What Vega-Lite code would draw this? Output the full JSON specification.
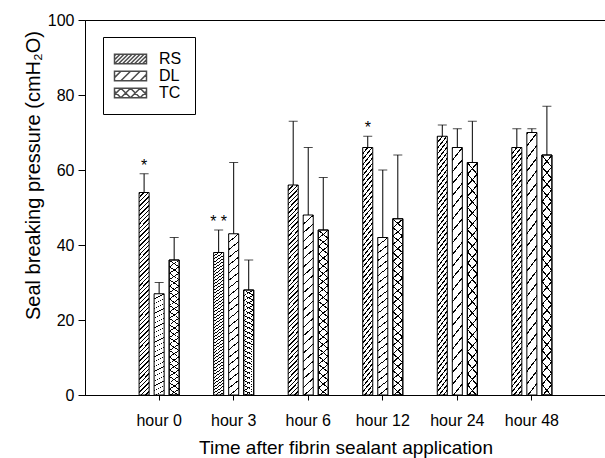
{
  "$schema": "https://vega.github.io/schema/vega-lite/v6.json",
  "width": 521,
  "height": 375,
  "autosize": {"type": "none"},
  "padding": {"left": 85, "top": 20, "right": -1, "bottom": 63},
  "background": "white",
  "config": {
    "view": {"stroke": "black", "strokeWidth": 1},
    "font": "Liberation Sans",
    "axis": {"domainColor": "black", "tickColor": "black", "labelColor": "black", "titleColor": "black", "labelFont": "Liberation Sans", "titleFont": "Liberation Sans", "titleFontWeight": "normal", "grid": false}
  },
  "data": {"values": [
    {"hour": "hour 0", "group": "RS", "value": 54, "upper": 59, "star": "*"},
    {"hour": "hour 0", "group": "DL", "value": 27, "upper": 30, "star": ""},
    {"hour": "hour 0", "group": "TC", "value": 36, "upper": 42, "star": ""},
    {"hour": "hour 3", "group": "RS", "value": 38, "upper": 44, "star": "* *"},
    {"hour": "hour 3", "group": "DL", "value": 43, "upper": 62, "star": ""},
    {"hour": "hour 3", "group": "TC", "value": 28, "upper": 36, "star": ""},
    {"hour": "hour 6", "group": "RS", "value": 56, "upper": 73, "star": ""},
    {"hour": "hour 6", "group": "DL", "value": 48, "upper": 66, "star": ""},
    {"hour": "hour 6", "group": "TC", "value": 44, "upper": 58, "star": ""},
    {"hour": "hour 12", "group": "RS", "value": 66, "upper": 69, "star": "*"},
    {"hour": "hour 12", "group": "DL", "value": 42, "upper": 60, "star": ""},
    {"hour": "hour 12", "group": "TC", "value": 47, "upper": 64, "star": ""},
    {"hour": "hour 24", "group": "RS", "value": 69, "upper": 72, "star": ""},
    {"hour": "hour 24", "group": "DL", "value": 66, "upper": 71, "star": ""},
    {"hour": "hour 24", "group": "TC", "value": 62, "upper": 73, "star": ""},
    {"hour": "hour 48", "group": "RS", "value": 66, "upper": 71, "star": ""},
    {"hour": "hour 48", "group": "DL", "value": 70, "upper": 71, "star": ""},
    {"hour": "hour 48", "group": "TC", "value": 64, "upper": 77, "star": ""}
  ]},
  "encoding": {
    "x": {"field": "hour", "type": "nominal",
      "scale": {"domain": ["hour 0", "hour 3", "hour 6", "hour 12", "hour 24", "hour 48"], "paddingInner": 0.395, "paddingOuter": 0.692},
      "axis": {"title": "Time after fibrin sealant application", "tickSize": 5, "labelPadding": 12, "labelFontSize": 16, "labelAngle": 0, "titleFontSize": 19, "titleY": 43, "titleBaseline": "top"}},
    "xOffset": {"field": "group", "type": "nominal", "scale": {"domain": ["RS", "DL", "TC"], "paddingInner": 0.3333, "paddingOuter": 0.1667}},
    "y": {"field": "value", "type": "quantitative", "scale": {"domain": [0, 100], "nice": false},
      "axis": {"title": "Seal breaking pressure (cmH₂O)", "values": [0, 20, 40, 60, 80, 100], "tickSize": 7, "labelPadding": 4, "labelFontSize": 16, "titleFontSize": 20, "titleX": -52, "titleY": 155, "titleAlign": "center", "titleBaseline": "middle"}}
  },
  "layer": [
    {
      "transform": [{"filter": "datum.group === 'RS'"}],
      "mark": {"type": "bar", "stroke": "black", "strokeWidth": 1, "fill": {"gradient": "linear", "x1": 0, "y1": 0, "x2": 0.0524, "y2": 1.0474, "stops": [
        {"offset":0,"color":"#000"},{"offset":0.0067,"color":"#000"},{"offset":0.0067,"color":"#fff"},{"offset":0.0208,"color":"#fff"},
        {"offset":0.0208,"color":"#000"},{"offset":0.0275,"color":"#000"},{"offset":0.0275,"color":"#fff"},{"offset":0.0417,"color":"#fff"},
        {"offset":0.0417,"color":"#000"},{"offset":0.0483,"color":"#000"},{"offset":0.0483,"color":"#fff"},{"offset":0.0625,"color":"#fff"},
        {"offset":0.0625,"color":"#000"},{"offset":0.0692,"color":"#000"},{"offset":0.0692,"color":"#fff"},{"offset":0.0833,"color":"#fff"},
        {"offset":0.0833,"color":"#000"},{"offset":0.09,"color":"#000"},{"offset":0.09,"color":"#fff"},{"offset":0.1042,"color":"#fff"},
        {"offset":0.1042,"color":"#000"},{"offset":0.1108,"color":"#000"},{"offset":0.1108,"color":"#fff"},{"offset":0.125,"color":"#fff"},
        {"offset":0.125,"color":"#000"},{"offset":0.1317,"color":"#000"},{"offset":0.1317,"color":"#fff"},{"offset":0.1458,"color":"#fff"},
        {"offset":0.1458,"color":"#000"},{"offset":0.1525,"color":"#000"},{"offset":0.1525,"color":"#fff"},{"offset":0.1667,"color":"#fff"},
        {"offset":0.1667,"color":"#000"},{"offset":0.1733,"color":"#000"},{"offset":0.1733,"color":"#fff"},{"offset":0.1875,"color":"#fff"},
        {"offset":0.1875,"color":"#000"},{"offset":0.1942,"color":"#000"},{"offset":0.1942,"color":"#fff"},{"offset":0.2083,"color":"#fff"},
        {"offset":0.2083,"color":"#000"},{"offset":0.215,"color":"#000"},{"offset":0.215,"color":"#fff"},{"offset":0.2292,"color":"#fff"},
        {"offset":0.2292,"color":"#000"},{"offset":0.2358,"color":"#000"},{"offset":0.2358,"color":"#fff"},{"offset":0.25,"color":"#fff"},
        {"offset":0.25,"color":"#000"},{"offset":0.2567,"color":"#000"},{"offset":0.2567,"color":"#fff"},{"offset":0.2708,"color":"#fff"},
        {"offset":0.2708,"color":"#000"},{"offset":0.2775,"color":"#000"},{"offset":0.2775,"color":"#fff"},{"offset":0.2917,"color":"#fff"},
        {"offset":0.2917,"color":"#000"},{"offset":0.2983,"color":"#000"},{"offset":0.2983,"color":"#fff"},{"offset":0.3125,"color":"#fff"},
        {"offset":0.3125,"color":"#000"},{"offset":0.3192,"color":"#000"},{"offset":0.3192,"color":"#fff"},{"offset":0.3333,"color":"#fff"},
        {"offset":0.3333,"color":"#000"},{"offset":0.34,"color":"#000"},{"offset":0.34,"color":"#fff"},{"offset":0.3542,"color":"#fff"},
        {"offset":0.3542,"color":"#000"},{"offset":0.3608,"color":"#000"},{"offset":0.3608,"color":"#fff"},{"offset":0.375,"color":"#fff"},
        {"offset":0.375,"color":"#000"},{"offset":0.3817,"color":"#000"},{"offset":0.3817,"color":"#fff"},{"offset":0.3958,"color":"#fff"},
        {"offset":0.3958,"color":"#000"},{"offset":0.4025,"color":"#000"},{"offset":0.4025,"color":"#fff"},{"offset":0.4167,"color":"#fff"},
        {"offset":0.4167,"color":"#000"},{"offset":0.4233,"color":"#000"},{"offset":0.4233,"color":"#fff"},{"offset":0.4375,"color":"#fff"},
        {"offset":0.4375,"color":"#000"},{"offset":0.4442,"color":"#000"},{"offset":0.4442,"color":"#fff"},{"offset":0.4583,"color":"#fff"},
        {"offset":0.4583,"color":"#000"},{"offset":0.465,"color":"#000"},{"offset":0.465,"color":"#fff"},{"offset":0.4792,"color":"#fff"},
        {"offset":0.4792,"color":"#000"},{"offset":0.4858,"color":"#000"},{"offset":0.4858,"color":"#fff"},{"offset":0.5,"color":"#fff"},
        {"offset":0.5,"color":"#000"},{"offset":0.5067,"color":"#000"},{"offset":0.5067,"color":"#fff"},{"offset":0.5208,"color":"#fff"},
        {"offset":0.5208,"color":"#000"},{"offset":0.5275,"color":"#000"},{"offset":0.5275,"color":"#fff"},{"offset":0.5417,"color":"#fff"},
        {"offset":0.5417,"color":"#000"},{"offset":0.5483,"color":"#000"},{"offset":0.5483,"color":"#fff"},{"offset":0.5625,"color":"#fff"},
        {"offset":0.5625,"color":"#000"},{"offset":0.5692,"color":"#000"},{"offset":0.5692,"color":"#fff"},{"offset":0.5833,"color":"#fff"},
        {"offset":0.5833,"color":"#000"},{"offset":0.59,"color":"#000"},{"offset":0.59,"color":"#fff"},{"offset":0.6042,"color":"#fff"},
        {"offset":0.6042,"color":"#000"},{"offset":0.6108,"color":"#000"},{"offset":0.6108,"color":"#fff"},{"offset":0.625,"color":"#fff"},
        {"offset":0.625,"color":"#000"},{"offset":0.6317,"color":"#000"},{"offset":0.6317,"color":"#fff"},{"offset":0.6458,"color":"#fff"},
        {"offset":0.6458,"color":"#000"},{"offset":0.6525,"color":"#000"},{"offset":0.6525,"color":"#fff"},{"offset":0.6667,"color":"#fff"},
        {"offset":0.6667,"color":"#000"},{"offset":0.6733,"color":"#000"},{"offset":0.6733,"color":"#fff"},{"offset":0.6875,"color":"#fff"},
        {"offset":0.6875,"color":"#000"},{"offset":0.6942,"color":"#000"},{"offset":0.6942,"color":"#fff"},{"offset":0.7083,"color":"#fff"},
        {"offset":0.7083,"color":"#000"},{"offset":0.715,"color":"#000"},{"offset":0.715,"color":"#fff"},{"offset":0.7292,"color":"#fff"},
        {"offset":0.7292,"color":"#000"},{"offset":0.7358,"color":"#000"},{"offset":0.7358,"color":"#fff"},{"offset":0.75,"color":"#fff"},
        {"offset":0.75,"color":"#000"},{"offset":0.7567,"color":"#000"},{"offset":0.7567,"color":"#fff"},{"offset":0.7708,"color":"#fff"},
        {"offset":0.7708,"color":"#000"},{"offset":0.7775,"color":"#000"},{"offset":0.7775,"color":"#fff"},{"offset":0.7917,"color":"#fff"},
        {"offset":0.7917,"color":"#000"},{"offset":0.7983,"color":"#000"},{"offset":0.7983,"color":"#fff"},{"offset":0.8125,"color":"#fff"},
        {"offset":0.8125,"color":"#000"},{"offset":0.8192,"color":"#000"},{"offset":0.8192,"color":"#fff"},{"offset":0.8333,"color":"#fff"},
        {"offset":0.8333,"color":"#000"},{"offset":0.84,"color":"#000"},{"offset":0.84,"color":"#fff"},{"offset":0.8542,"color":"#fff"},
        {"offset":0.8542,"color":"#000"},{"offset":0.8608,"color":"#000"},{"offset":0.8608,"color":"#fff"},{"offset":0.875,"color":"#fff"},
        {"offset":0.875,"color":"#000"},{"offset":0.8817,"color":"#000"},{"offset":0.8817,"color":"#fff"},{"offset":0.8958,"color":"#fff"},
        {"offset":0.8958,"color":"#000"},{"offset":0.9025,"color":"#000"},{"offset":0.9025,"color":"#fff"},{"offset":0.9167,"color":"#fff"},
        {"offset":0.9167,"color":"#000"},{"offset":0.9233,"color":"#000"},{"offset":0.9233,"color":"#fff"},{"offset":0.9375,"color":"#fff"},
        {"offset":0.9375,"color":"#000"},{"offset":0.9442,"color":"#000"},{"offset":0.9442,"color":"#fff"},{"offset":0.9583,"color":"#fff"},
        {"offset":0.9583,"color":"#000"},{"offset":0.965,"color":"#000"},{"offset":0.965,"color":"#fff"},{"offset":0.9792,"color":"#fff"},
        {"offset":0.9792,"color":"#000"},{"offset":0.9858,"color":"#000"},{"offset":0.9858,"color":"#fff"},{"offset":1,"color":"#fff"}
      ]}}
    },
    {
      "transform": [{"filter": "datum.group === 'DL'"}],
      "mark": {"type": "bar", "stroke": "black", "strokeWidth": 1, "fill": {"gradient": "linear", "x1": 0, "y1": 0, "x2": 0.0524, "y2": 1.0474, "stops": [
        {"offset":0,"color":"#000"},{"offset":0.0068,"color":"#000"},{"offset":0.0068,"color":"#fff"},{"offset":0.0455,"color":"#fff"},
        {"offset":0.0455,"color":"#000"},{"offset":0.0523,"color":"#000"},{"offset":0.0523,"color":"#fff"},{"offset":0.0909,"color":"#fff"},
        {"offset":0.0909,"color":"#000"},{"offset":0.0977,"color":"#000"},{"offset":0.0977,"color":"#fff"},{"offset":0.1364,"color":"#fff"},
        {"offset":0.1364,"color":"#000"},{"offset":0.1432,"color":"#000"},{"offset":0.1432,"color":"#fff"},{"offset":0.1818,"color":"#fff"},
        {"offset":0.1818,"color":"#000"},{"offset":0.1886,"color":"#000"},{"offset":0.1886,"color":"#fff"},{"offset":0.2273,"color":"#fff"},
        {"offset":0.2273,"color":"#000"},{"offset":0.2341,"color":"#000"},{"offset":0.2341,"color":"#fff"},{"offset":0.2727,"color":"#fff"},
        {"offset":0.2727,"color":"#000"},{"offset":0.2795,"color":"#000"},{"offset":0.2795,"color":"#fff"},{"offset":0.3182,"color":"#fff"},
        {"offset":0.3182,"color":"#000"},{"offset":0.325,"color":"#000"},{"offset":0.325,"color":"#fff"},{"offset":0.3636,"color":"#fff"},
        {"offset":0.3636,"color":"#000"},{"offset":0.3704,"color":"#000"},{"offset":0.3704,"color":"#fff"},{"offset":0.4091,"color":"#fff"},
        {"offset":0.4091,"color":"#000"},{"offset":0.4159,"color":"#000"},{"offset":0.4159,"color":"#fff"},{"offset":0.4545,"color":"#fff"},
        {"offset":0.4545,"color":"#000"},{"offset":0.4613,"color":"#000"},{"offset":0.4613,"color":"#fff"},{"offset":0.5,"color":"#fff"},
        {"offset":0.5,"color":"#000"},{"offset":0.5068,"color":"#000"},{"offset":0.5068,"color":"#fff"},{"offset":0.5455,"color":"#fff"},
        {"offset":0.5455,"color":"#000"},{"offset":0.5523,"color":"#000"},{"offset":0.5523,"color":"#fff"},{"offset":0.5909,"color":"#fff"},
        {"offset":0.5909,"color":"#000"},{"offset":0.5977,"color":"#000"},{"offset":0.5977,"color":"#fff"},{"offset":0.6364,"color":"#fff"},
        {"offset":0.6364,"color":"#000"},{"offset":0.6432,"color":"#000"},{"offset":0.6432,"color":"#fff"},{"offset":0.6818,"color":"#fff"},
        {"offset":0.6818,"color":"#000"},{"offset":0.6886,"color":"#000"},{"offset":0.6886,"color":"#fff"},{"offset":0.7273,"color":"#fff"},
        {"offset":0.7273,"color":"#000"},{"offset":0.7341,"color":"#000"},{"offset":0.7341,"color":"#fff"},{"offset":0.7727,"color":"#fff"},
        {"offset":0.7727,"color":"#000"},{"offset":0.7795,"color":"#000"},{"offset":0.7795,"color":"#fff"},{"offset":0.8182,"color":"#fff"},
        {"offset":0.8182,"color":"#000"},{"offset":0.825,"color":"#000"},{"offset":0.825,"color":"#fff"},{"offset":0.8636,"color":"#fff"},
        {"offset":0.8636,"color":"#000"},{"offset":0.8704,"color":"#000"},{"offset":0.8704,"color":"#fff"},{"offset":0.9091,"color":"#fff"},
        {"offset":0.9091,"color":"#000"},{"offset":0.9159,"color":"#000"},{"offset":0.9159,"color":"#fff"},{"offset":0.9545,"color":"#fff"},
        {"offset":0.9545,"color":"#000"},{"offset":0.9613,"color":"#000"},{"offset":0.9613,"color":"#fff"},{"offset":1,"color":"#fff"}
      ]}}
    },
    {
      "transform": [{"filter": "datum.group === 'TC'"}],
      "mark": {"type": "bar", "stroke": "black", "strokeWidth": 1, "fill": {"gradient": "linear", "x1": 0, "y1": 0, "x2": 0.0524, "y2": 1.0474, "stops": [
        {"offset":0,"color":"#000"},{"offset":0.0068,"color":"#000"},{"offset":0.0068,"color":"#fff"},{"offset":0.0455,"color":"#fff"},
        {"offset":0.0455,"color":"#000"},{"offset":0.0523,"color":"#000"},{"offset":0.0523,"color":"#fff"},{"offset":0.0909,"color":"#fff"},
        {"offset":0.0909,"color":"#000"},{"offset":0.0977,"color":"#000"},{"offset":0.0977,"color":"#fff"},{"offset":0.1364,"color":"#fff"},
        {"offset":0.1364,"color":"#000"},{"offset":0.1432,"color":"#000"},{"offset":0.1432,"color":"#fff"},{"offset":0.1818,"color":"#fff"},
        {"offset":0.1818,"color":"#000"},{"offset":0.1886,"color":"#000"},{"offset":0.1886,"color":"#fff"},{"offset":0.2273,"color":"#fff"},
        {"offset":0.2273,"color":"#000"},{"offset":0.2341,"color":"#000"},{"offset":0.2341,"color":"#fff"},{"offset":0.2727,"color":"#fff"},
        {"offset":0.2727,"color":"#000"},{"offset":0.2795,"color":"#000"},{"offset":0.2795,"color":"#fff"},{"offset":0.3182,"color":"#fff"},
        {"offset":0.3182,"color":"#000"},{"offset":0.325,"color":"#000"},{"offset":0.325,"color":"#fff"},{"offset":0.3636,"color":"#fff"},
        {"offset":0.3636,"color":"#000"},{"offset":0.3704,"color":"#000"},{"offset":0.3704,"color":"#fff"},{"offset":0.4091,"color":"#fff"},
        {"offset":0.4091,"color":"#000"},{"offset":0.4159,"color":"#000"},{"offset":0.4159,"color":"#fff"},{"offset":0.4545,"color":"#fff"},
        {"offset":0.4545,"color":"#000"},{"offset":0.4613,"color":"#000"},{"offset":0.4613,"color":"#fff"},{"offset":0.5,"color":"#fff"},
        {"offset":0.5,"color":"#000"},{"offset":0.5068,"color":"#000"},{"offset":0.5068,"color":"#fff"},{"offset":0.5455,"color":"#fff"},
        {"offset":0.5455,"color":"#000"},{"offset":0.5523,"color":"#000"},{"offset":0.5523,"color":"#fff"},{"offset":0.5909,"color":"#fff"},
        {"offset":0.5909,"color":"#000"},{"offset":0.5977,"color":"#000"},{"offset":0.5977,"color":"#fff"},{"offset":0.6364,"color":"#fff"},
        {"offset":0.6364,"color":"#000"},{"offset":0.6432,"color":"#000"},{"offset":0.6432,"color":"#fff"},{"offset":0.6818,"color":"#fff"},
        {"offset":0.6818,"color":"#000"},{"offset":0.6886,"color":"#000"},{"offset":0.6886,"color":"#fff"},{"offset":0.7273,"color":"#fff"},
        {"offset":0.7273,"color":"#000"},{"offset":0.7341,"color":"#000"},{"offset":0.7341,"color":"#fff"},{"offset":0.7727,"color":"#fff"},
        {"offset":0.7727,"color":"#000"},{"offset":0.7795,"color":"#000"},{"offset":0.7795,"color":"#fff"},{"offset":0.8182,"color":"#fff"},
        {"offset":0.8182,"color":"#000"},{"offset":0.825,"color":"#000"},{"offset":0.825,"color":"#fff"},{"offset":0.8636,"color":"#fff"},
        {"offset":0.8636,"color":"#000"},{"offset":0.8704,"color":"#000"},{"offset":0.8704,"color":"#fff"},{"offset":0.9091,"color":"#fff"},
        {"offset":0.9091,"color":"#000"},{"offset":0.9159,"color":"#000"},{"offset":0.9159,"color":"#fff"},{"offset":0.9545,"color":"#fff"},
        {"offset":0.9545,"color":"#000"},{"offset":0.9613,"color":"#000"},{"offset":0.9613,"color":"#fff"},{"offset":1,"color":"#fff"}
      ]}}
    },
    {
      "transform": [{"filter": "datum.group === 'TC'"}],
      "mark": {"type": "bar", "stroke": "black", "strokeWidth": 1, "fill": {"gradient": "linear", "x1": 1, "y1": 0, "x2": 0.9476, "y2": 1.0474, "stops": [
        {"offset":0,"color":"#000"},{"offset":0.0068,"color":"#000"},{"offset":0.0068,"color":"rgba(0,0,0,0)"},{"offset":0.0455,"color":"rgba(0,0,0,0)"},
        {"offset":0.0455,"color":"#000"},{"offset":0.0523,"color":"#000"},{"offset":0.0523,"color":"rgba(0,0,0,0)"},{"offset":0.0909,"color":"rgba(0,0,0,0)"},
        {"offset":0.0909,"color":"#000"},{"offset":0.0977,"color":"#000"},{"offset":0.0977,"color":"rgba(0,0,0,0)"},{"offset":0.1364,"color":"rgba(0,0,0,0)"},
        {"offset":0.1364,"color":"#000"},{"offset":0.1432,"color":"#000"},{"offset":0.1432,"color":"rgba(0,0,0,0)"},{"offset":0.1818,"color":"rgba(0,0,0,0)"},
        {"offset":0.1818,"color":"#000"},{"offset":0.1886,"color":"#000"},{"offset":0.1886,"color":"rgba(0,0,0,0)"},{"offset":0.2273,"color":"rgba(0,0,0,0)"},
        {"offset":0.2273,"color":"#000"},{"offset":0.2341,"color":"#000"},{"offset":0.2341,"color":"rgba(0,0,0,0)"},{"offset":0.2727,"color":"rgba(0,0,0,0)"},
        {"offset":0.2727,"color":"#000"},{"offset":0.2795,"color":"#000"},{"offset":0.2795,"color":"rgba(0,0,0,0)"},{"offset":0.3182,"color":"rgba(0,0,0,0)"},
        {"offset":0.3182,"color":"#000"},{"offset":0.325,"color":"#000"},{"offset":0.325,"color":"rgba(0,0,0,0)"},{"offset":0.3636,"color":"rgba(0,0,0,0)"},
        {"offset":0.3636,"color":"#000"},{"offset":0.3704,"color":"#000"},{"offset":0.3704,"color":"rgba(0,0,0,0)"},{"offset":0.4091,"color":"rgba(0,0,0,0)"},
        {"offset":0.4091,"color":"#000"},{"offset":0.4159,"color":"#000"},{"offset":0.4159,"color":"rgba(0,0,0,0)"},{"offset":0.4545,"color":"rgba(0,0,0,0)"},
        {"offset":0.4545,"color":"#000"},{"offset":0.4613,"color":"#000"},{"offset":0.4613,"color":"rgba(0,0,0,0)"},{"offset":0.5,"color":"rgba(0,0,0,0)"},
        {"offset":0.5,"color":"#000"},{"offset":0.5068,"color":"#000"},{"offset":0.5068,"color":"rgba(0,0,0,0)"},{"offset":0.5455,"color":"rgba(0,0,0,0)"},
        {"offset":0.5455,"color":"#000"},{"offset":0.5523,"color":"#000"},{"offset":0.5523,"color":"rgba(0,0,0,0)"},{"offset":0.5909,"color":"rgba(0,0,0,0)"},
        {"offset":0.5909,"color":"#000"},{"offset":0.5977,"color":"#000"},{"offset":0.5977,"color":"rgba(0,0,0,0)"},{"offset":0.6364,"color":"rgba(0,0,0,0)"},
        {"offset":0.6364,"color":"#000"},{"offset":0.6432,"color":"#000"},{"offset":0.6432,"color":"rgba(0,0,0,0)"},{"offset":0.6818,"color":"rgba(0,0,0,0)"},
        {"offset":0.6818,"color":"#000"},{"offset":0.6886,"color":"#000"},{"offset":0.6886,"color":"rgba(0,0,0,0)"},{"offset":0.7273,"color":"rgba(0,0,0,0)"},
        {"offset":0.7273,"color":"#000"},{"offset":0.7341,"color":"#000"},{"offset":0.7341,"color":"rgba(0,0,0,0)"},{"offset":0.7727,"color":"rgba(0,0,0,0)"},
        {"offset":0.7727,"color":"#000"},{"offset":0.7795,"color":"#000"},{"offset":0.7795,"color":"rgba(0,0,0,0)"},{"offset":0.8182,"color":"rgba(0,0,0,0)"},
        {"offset":0.8182,"color":"#000"},{"offset":0.825,"color":"#000"},{"offset":0.825,"color":"rgba(0,0,0,0)"},{"offset":0.8636,"color":"rgba(0,0,0,0)"},
        {"offset":0.8636,"color":"#000"},{"offset":0.8704,"color":"#000"},{"offset":0.8704,"color":"rgba(0,0,0,0)"},{"offset":0.9091,"color":"rgba(0,0,0,0)"},
        {"offset":0.9091,"color":"#000"},{"offset":0.9159,"color":"#000"},{"offset":0.9159,"color":"rgba(0,0,0,0)"},{"offset":0.9545,"color":"rgba(0,0,0,0)"},
        {"offset":0.9545,"color":"#000"},{"offset":0.9613,"color":"#000"},{"offset":0.9613,"color":"rgba(0,0,0,0)"},{"offset":1,"color":"rgba(0,0,0,0)"}
      ]}}
    },
    {
      "mark": {"type": "rule", "color": "black", "strokeWidth": 1},
      "encoding": {"y2": {"field": "upper"}}
    },
    {
      "mark": {"type": "tick", "orient": "horizontal", "color": "black", "size": 9, "thickness": 1},
      "encoding": {"y": {"field": "upper", "type": "quantitative", "title": "Seal breaking pressure (cmH₂O)"}}
    },
    {
      "transform": [{"filter": "datum.star != ''"}],
      "mark": {"type": "text", "font": "Liberation Sans", "fontSize": 16, "baseline": "alphabetic", "dy": -3, "fill": "#000000"},
      "encoding": {"y": {"field": "upper", "type": "quantitative", "title": "Seal breaking pressure (cmH₂O)"}, "text": {"field": "star"}}
    },
    {
      "mark": {"type": "point", "filled": true, "fill": "white", "stroke": "black", "strokeWidth": 1, "size": 0},
      "encoding": {
        "shape": {"field": "group", "type": "nominal",
          "scale": {"domain": ["RS", "DL", "TC"], "range": [
            "M-2,-0.6H2V0.6H-2Z M-2,-0.4L-1.8,-0.6 M-2,0.1L-1.3,-0.6 M-2,0.6L-0.8,-0.6 M-1.5,0.6L-0.3,-0.6 M-1,0.6L0.2,-0.6 M-0.5,0.6L0.7,-0.6 M0,0.6L1.2,-0.6 M0.5,0.6L1.7,-0.6 M1,0.6L2,-0.4 M1.5,0.6L2,0.1",
            "M-2,-0.6H2V0.6H-2Z M-2,0.2L-1.2,-0.6 M-1.2,0.6L0,-0.6 M0,0.6L1.2,-0.6 M1.2,0.6L2,-0.2",
            "M-2,-0.6H2V0.6H-2Z M-2,0.2L-1.2,-0.6 M-1.2,0.6L0,-0.6 M0,0.6L1.2,-0.6 M1.2,0.6L2,-0.2 M-2,-0.2L-1.2,0.6 M-1.2,-0.6L0,0.6 M0,-0.6L1.2,0.6 M1.2,-0.6L2,0.2"
          ]},
          "legend": {"orient": "none", "legendX": 18, "legendY": 17, "title": null, "direction": "vertical", "padding": 13, "strokeColor": "black", "fillColor": "white", "symbolSize": 256, "symbolOffset": 5.5, "labelOffset": 19.5, "labelFontSize": 16, "labelFont": "Liberation Sans", "labelColor": "black", "rowPadding": 0,
            "encode": {"symbols": {"update": {"size": {"value": 256}, "fill": {"value": "white"}, "stroke": {"value": "black"}}}}}
        }
      }
    }
  ]
}
